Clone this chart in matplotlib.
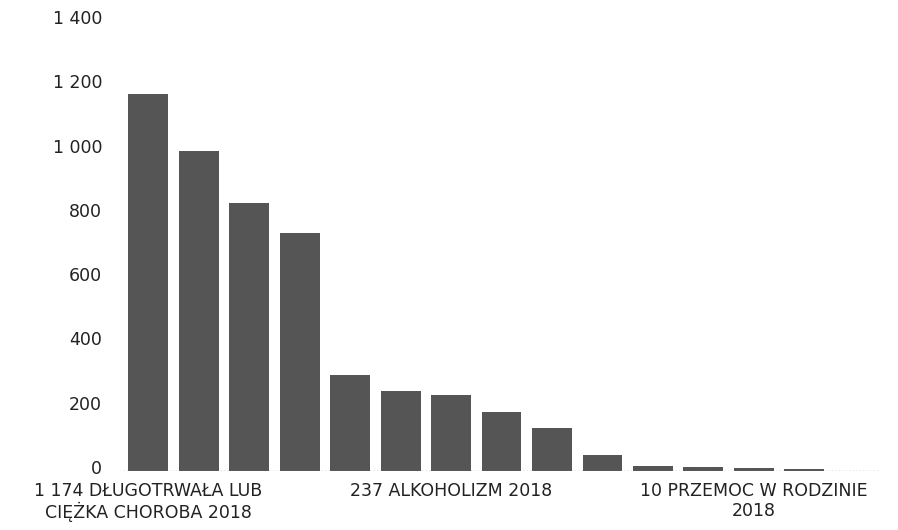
import matplotlib.pyplot as plt
import matplotlib.transforms as mtransforms
from matplotlib.ticker import FuncFormatter

# bar values (only 1 174, 237 and 10 are printed)
values = [1174, 995, 835, 742, 298, 248, 237, 185, 133, 50, 16, 13, 10, 6, 1]
# only every 6th category label is shown in the original
labels = ['1 174 DŁUGOTRWAŁA LUB\nCIĘŻKA CHOROBA 2018', '', '', '', '', '',
          '237 ALKOHOLIZM 2018', '', '', '', '', '',
          '10 PRZEMOC W RODZINIE\n2018', '', '']
y_ticks = [0, 200, 400, 600, 800, 1000, 1200, 1400]

plt.rcParams['font.family'] = ['DejaVu Sans']

fig = plt.figure(figsize=(8.98, 5.30), dpi=100)
ax = fig.add_axes([0.137, 0.111, 0.843, 0.849])

x = range(len(values))
ax.bar(x, values, width=0.79, color='#555555')

ax.set_xlim(-0.5, len(values) - 0.5)
ax.set_ylim(0, 1400)
ax.set_yticks(y_ticks)
ax.yaxis.set_major_formatter(FuncFormatter(lambda v, p: f'{int(v):,}'.replace(',', ' ')))
ax.set_xticks(list(x))
ax.set_xticklabels(labels, linespacing=1.1)

for s in ax.spines.values():
    s.set_visible(False)
ax.axhline(0, color='#888888', lw=1, ls=(0, (1, 1.5)))

ax.tick_params(axis='y', length=0, pad=15, labelsize=12.5, labelcolor='#222222')
ax.tick_params(axis='x', length=0, pad=8, labelsize=12.5, labelcolor='#222222')

# y labels sit a little above their gridline in the original
shift = mtransforms.ScaledTranslation(0, 3 / 72, fig.dpi_scale_trans)
for lab in ax.get_yticklabels():
    lab.set_transform(lab.get_transform() + shift)

fig.savefig('out.png', dpi=100)
